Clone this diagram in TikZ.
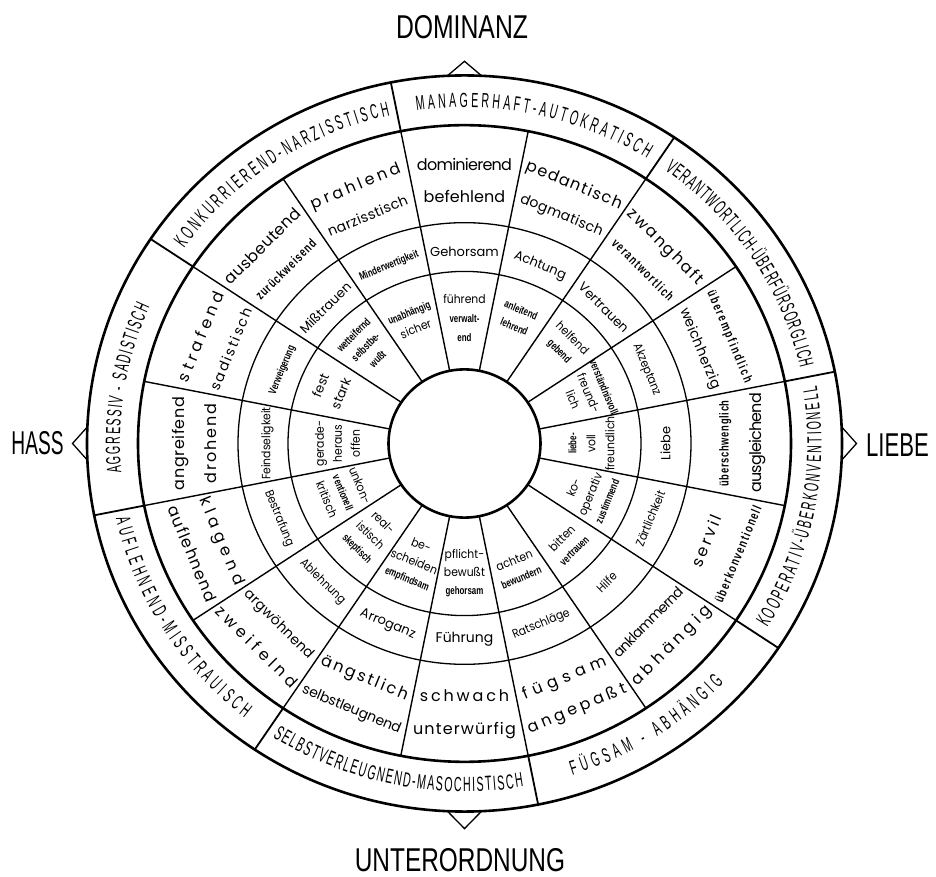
\documentclass[tikz,border=0pt]{standalone}
\usepackage{fontspec}
\usepackage{graphicx}
\usetikzlibrary{decorations.text}

\newfontfamily\popf{Poppins}
\newfontfamily\popnar[FakeStretch=0.9]{Poppins}
\newfontfamily\libbn[FakeStretch=0.72]{Liberation Sans}
\newfontfamily\octf[FakeStretch=0.52]{Liberation Sans}
\newfontfamily\capf{Liberation Sans}

% letters of a word spread evenly over a given width
\def\sprd#1{\sprdA#1\relax}
\def\sprdA#1{#1\sprdB}
\def\sprdB#1{\ifx\relax#1\else\hskip0pt plus1fil minus0.8pt#1\expandafter\sprdB\fi}
\newcommand\spreadbox[2]{\makebox[\dimexpr#1pt*96/100\relax][s]{\sprd{#2}}}

\newcommand\wa[2]{{\popf\fontsize{16}{16}\selectfont\spreadbox{#1}{#2}}}
\newcommand\wm[2]{{\popf\fontsize{14}{14}\selectfont\spreadbox{#1}{#2}}}
\newcommand\wB[2]{{\libbn\bfseries\fontsize{13}{13}\selectfont\spreadbox{#1}{#2}}}
\newcommand\ws[1]{{\popf\fontsize{13}{13}\selectfont #1}}
\newcommand\wn[1]{{\popnar\fontsize{12}{12}\selectfont #1}}
\newcommand\wb[1]{{\libbn\bfseries\fontsize{11}{11}\selectfont #1}}
\newcommand\octfs{\octf\fontsize{20.5}{20.5}\selectfont}
\newcommand\capfs{\capf\fontsize{33}{33}\selectfont}

% text block of one segment, turned to follow the ring
\newcommand\seg[5]{%
  \pgfmathsetmacro\segrot{(#2>0) ? (#2-90) : (#2+90)}%
  \node[segtext, rotate=\segrot, font=\fontsize{10}{#4}\selectfont] (#1) at (#2:#3) {#5};}

% octant title written along an arc of the outer band
\newcommand\octlabel[4]{%
  \pgfmathsetmacro\octry{0.975*#3}%
  \path[decorate, decoration={text along path, text={|\octfs|#4}, text align={fit to path}}]
    (#1:#3) arc[start angle=#1, end angle=#2, x radius=#3pt, y radius=\octry pt];}

\begin{document}
\begin{tikzpicture}[x=1pt, y=0.975pt,
  ringthick/.style={line width=2.6pt},
  ringthin/.style={line width=1.3pt},
  spoke/.style={line width=1.4pt},
  octspoke/.style={line width=1.8pt},
  pointer/.style={line width=1.3pt, line join=miter},
  segtext/.style={align=center, inner sep=0pt},
  pole/.style={inner sep=0pt, font=\capfs}]

\useasboundingbox[fill=white] (-464.5pt,-433.5pt) rectangle (471.5pt,443.5pt);
\coordinate (O) at (0,0);

% spokes between the sixteen segments
\foreach \a in {11.25,33.75,56.25,78.75,101.25,123.75,146.25,168.75,191.25,213.75,236.25,258.75,281.25,303.75,326.25,348.75}
  \draw[spoke] (\a:76) -- (\a:326.5);
% octant borders through the outer band
\foreach \a in {11.25,56.25,101.25,146.25,191.25,236.25,281.25,326.25}
  \draw[octspoke] (\a:326.5) -- (\a:377.5);

% rings
\draw[ringthick] (O) ellipse[x radius=377.5pt, y radius=368.06pt];
\draw[ringthick] (O) ellipse[x radius=326.5pt, y radius=318.34pt];
\draw[ringthin]  (O) ellipse[x radius=226.5pt, y radius=220.84pt];
\draw[ringthin]  (O) ellipse[x radius=176.5pt, y radius=172.09pt];
\draw[ringthick, fill=white] (O) ellipse[x radius=76pt, y radius=74.1pt];

% pointers on the axes
\draw[pointer] (87.4:377.5) -- (90:392) -- (92.6:377.5);
\draw[pointer] (182.6:377.5) -- (180:392) -- (177.4:377.5);
\draw[pointer] (-2.6:377.5) -- (0:392) -- (2.6:377.5);
\draw[pointer] (267.4:377.5) -- (270:395) -- (272.6:377.5);

% axis names
\node[pole] (dom)   at (-2.5pt,416.5pt)  {\scalebox{0.75}[1]{DOMINANZ}};
\node[pole] (hass)  at (-427pt,0.5pt)    {\scalebox{0.58}[1]{HASS}};
\node[pole] (liebe) at (433pt,-1.5pt)    {\scalebox{0.67}[1]{LIEBE}};
\node[pole] (unter) at (-4.5pt,-417pt)   {\scalebox{0.74}[1]{UNTERORDNUNG}};

% octant titles
\octlabel{98}{58}{344.5}{MANAGERHAFT-AUTOKRATISCH}
\octlabel{54.5}{13}{344.5}{VERANTWORTLICH-ÜBERFÜRSORGLICH}
\octlabel{-32}{9.5}{357}{KOOPERATIV-ÜBERKONVENTIONELL}
\octlabel{-72.4}{-43.4}{357}{FÜGSAM - ABHÄNGIG}
\octlabel{-122.5}{-80.5}{357}{SELBSTVERLEUGNEND-MASOCHISTISCH}
\octlabel{-167.5}{-128}{357}{AUFLEHNEND-MISSTRAUISCH}
\octlabel{185}{156}{344.5}{AGGRESSIV - SADISTISCH}
\octlabel{144.5}{102.5}{344.5}{KONKURRIEREND-NARZISSTISCH}

% band of paired adjectives
\seg{p1}{90}{270}{32}{\wa{99}{dominierend}\\\wa{85}{befehlend}}
\seg{p2}{67.5}{270}{32}{\wa{107}{pedantisch}\\\wm{92}{dogmatisch}}
\seg{p3}{45}{270}{32}{\wa{105}{zwanghaft}\\\wB{85}{verantwortlich}}
\seg{p4}{22.5}{270}{32}{\wB{103}{überempfindlich}\\\wm{90}{weichherzig}}
\seg{p5}{0}{278}{33}{\wB{90}{überschwenglich}\\\wa{103}{ausgleichend}}
\seg{p6}{-22.5}{278}{33}{\wa{57}{servil}\\\wB{108}{überkonventionell}}
\seg{p7}{-45}{278}{33}{\wm{96}{anklammernd}\\\wa{111}{abhängig}}
\seg{p8}{-67.5}{278}{33}{\wa{93}{fügsam}\\\wa{110}{angepaßt}}
\seg{p9}{-90}{278}{33}{\wa{93}{schwach}\\\wa{107}{unterwürfig}}
\seg{p10}{-112.5}{278}{33}{\wa{97}{ängstlich}\\\wm{110}{selbstleugnend}}
\seg{p11}{-135}{278}{33}{\wm{96}{argwöhnend}\\\wa{113}{zweifelnd}}
\seg{p12}{-157.5}{278}{33}{\wa{98}{klagend}\\\wa{107}{auflehnend}}
\seg{p13}{180}{270}{32}{\wa{97}{angreifend}\\\wa{83}{drohend}}
\seg{p14}{157.5}{270}{32}{\wa{100}{strafend}\\\wm{92}{sadistisch}}
\seg{p15}{135}{270}{32}{\wa{105}{ausbeutend}\\\wB{83}{zurückweisend}}
\seg{p16}{112.5}{270}{32}{\wa{100}{prahlend}\\\wm{89}{narzisstisch}}

% band of single nouns
\seg{n1}{90}{197}{14}{\ws{Gehorsam}}
\seg{n2}{67.5}{197}{14}{\ws{Achtung}}
\seg{n3}{45}{197}{14}{\ws{Vertrauen}}
\seg{n4}{22.5}{197}{14}{\wn{Akzeptanz}}
\seg{n5}{0}{201}{14}{\ws{Liebe}}
\seg{n6}{-22.5}{201}{14}{\wn{Zärtlichkeit}}
\seg{n7}{-45}{201}{14}{\wn{Hilfe}}
\seg{n8}{-67.5}{201}{14}{\wn{Ratschläge}}
\seg{n9}{-90}{201}{14}{{\popf\fontsize{14}{14}\selectfont Führung}}
\seg{n10}{-112.5}{201}{14}{\ws{Arroganz}}
\seg{n11}{-135}{201}{14}{\wn{Ablehnung}}
\seg{n12}{-157.5}{201}{14}{\wn{Bestrafung}}
\seg{n13}{180}{197}{14}{\wn{Feindseligkeit}}
\seg{n14}{157.5}{197}{14}{\wb{Verweigerung}}
\seg{n15}{135}{197}{14}{\ws{Mißtrauen}}
\seg{n16}{112.5}{197}{14}{\wb{Minderwertigkeit}}

% inner band of behaviours
\seg{i1}{90}{129}{19}{\wn{führend}\\\wb{verwalt-}\\\wb{end}}
\seg{i2}{67.5}{139}{18}{\wb{anleitend}\\\wb{lehrend}}
\seg{i3}{45}{143}{18}{\wn{helfend}\\\wb{gebend}}
\seg{i4}{22.5}{134}{17}{\wb{verständnisvoll}\\\wn{freund-}\\\wn{lich}}
\seg{i5}{0}{127}{19}{\wb{liebe-}\\\wn{voll}\\\wn{freundlich}}
\seg{i6}{-22.5}{136}{18}{\wn{ko-}\\\wn{operativ}\\\wb{zustimmend}}
\seg{i7}{-45}{146}{17}{\wn{bitten}\\\wb{vertrauen}}
\seg{i8}{-67.5}{139}{18}{\wn{achten}\\\wb{bewundern}}
\seg{i9}{-90}{133}{18}{\wn{pflicht-}\\\wn{bewußt}\\\wb{gehorsam}}
\seg{i10}{-112.5}{132}{18}{\wn{be-}\\\wn{scheiden}\\\wb{empfindsam}}
\seg{i11}{-135}{134}{18}{\wn{real-}\\\wn{istisch}\\\wb{skeptisch}}
\seg{i12}{-157.5}{131}{18}{\wn{unkon-}\\\wb{ventionell}\\\wn{kritisch}}
\seg{i13}{180}{127}{18}{\wn{gerade-}\\\wn{heraus}\\\wn{offen}}
\seg{i14}{157.5}{145}{22}{\ws{fest}\\\ws{stark}}
\seg{i15}{135}{140}{17}{\wb{wetteifernd}\\\wb{selbstbe-}\\\wb{wußt}}
\seg{i16}{112.5}{136}{18}{\wb{unabhängig}\\\wn{sicher}}

\end{tikzpicture}
\end{document}
